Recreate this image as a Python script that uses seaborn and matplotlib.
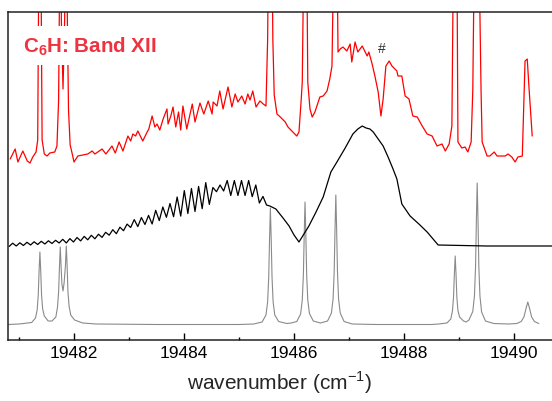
import matplotlib
matplotlib.use('Agg')
import matplotlib.pyplot as plt
import seaborn as sns
from matplotlib.ticker import MultipleLocator

# ── data (wavenumber in cm-1, intensity in arb. units) ────────────────
# experimental spectrum (red, top)
red_x = [19480.84, 19480.93, 19480.98, 19481.07, 19481.15, 19481.20, 19481.25, 19481.31, 19481.34, 19481.355,
         19481.38, 19481.405, 19481.42, 19481.46, 19481.51, 19481.56, 19481.65, 19481.69, 19481.72, 19481.735,
         19481.75, 19481.77, 19481.80, 19481.83, 19481.86, 19481.875, 19481.90, 19481.93, 19481.96, 19482.00,
         19482.07, 19482.16, 19482.25, 19482.33, 19482.38, 19482.51, 19482.58, 19482.69, 19482.75, 19482.82,
         19482.89, 19482.98, 19483.03, 19483.07, 19483.12, 19483.16, 19483.25, 19483.33, 19483.36, 19483.42,
         19483.47, 19483.51, 19483.56, 19483.62, 19483.69, 19483.71, 19483.76, 19483.80, 19483.85, 19483.90,
         19483.94, 19483.98, 19484.05, 19484.15, 19484.20, 19484.29, 19484.36, 19484.44, 19484.51, 19484.53,
         19484.60, 19484.65, 19484.71, 19484.80, 19484.87, 19484.93, 19484.98, 19485.05, 19485.11, 19485.16,
         19485.20, 19485.25, 19485.31, 19485.38, 19485.44, 19485.49, 19485.52, 19485.545, 19485.565, 19485.59,
         19485.615, 19485.64, 19485.69, 19485.75, 19485.84, 19485.89, 19485.98, 19486.05, 19486.09, 19486.13,
         19486.15, 19486.18, 19486.20, 19486.23, 19486.25, 19486.29, 19486.33, 19486.38, 19486.47, 19486.53,
         19486.60, 19486.65, 19486.69, 19486.725, 19486.755, 19486.78, 19486.80, 19486.84, 19486.89, 19486.96,
         19487.02, 19487.05, 19487.11, 19487.16, 19487.24, 19487.33, 19487.36, 19487.42, 19487.47, 19487.53,
         19487.58, 19487.62, 19487.67, 19487.73, 19487.78, 19487.87, 19487.89, 19487.96, 19488.02, 19488.09,
         19488.16, 19488.24, 19488.33, 19488.42, 19488.51, 19488.60, 19488.69, 19488.75, 19488.82, 19488.87,
         19488.90, 19488.93, 19488.96, 19488.98, 19489.05, 19489.11, 19489.16, 19489.22, 19489.25, 19489.28,
         19489.32, 19489.36, 19489.40, 19489.42, 19489.51, 19489.56, 19489.64, 19489.69, 19489.84, 19489.89,
         19489.96, 19490.02, 19490.07, 19490.15, 19490.20, 19490.24, 19490.27, 19490.33]
red_y = [181, 191, 178, 189, 179, 177, 183, 188, 200, 330,
         600, 330, 200, 186, 184, 187, 188, 194, 240, 340,
         600, 320, 251, 320, 600, 340, 230, 195, 188, 178,
         184, 185, 186, 189, 186, 191, 186, 194, 187, 198,
         189, 204, 199, 206, 204, 209, 199, 208, 211, 224,
         213, 216, 210, 221, 231, 216, 224, 233, 213, 228,
         210, 234, 211, 236, 218, 237, 226, 239, 226, 238,
         234, 249, 231, 253, 233, 246, 238, 244, 236, 246,
         240, 249, 233, 239, 236, 234, 300, 450, 600, 450,
         300, 245, 226, 223, 218, 213, 208, 204, 208, 240,
         258, 400, 600, 400, 258, 231, 223, 228, 243, 244,
         249, 261, 274, 400, 600, 400, 288, 291, 293, 289,
         296, 278, 298, 288, 294, 284, 288, 276, 264, 248,
         224, 241, 274, 279, 274, 269, 264, 264, 244, 241,
         224, 223, 214, 206, 204, 194, 196, 189, 196, 214,
         400, 600, 400, 198, 192, 193, 188, 198, 250, 400,
         600, 400, 250, 198, 184, 184, 188, 184, 184, 186,
         183, 178, 183, 184, 279, 281, 254, 204]

# simulated contour (black, middle)
black_x = [19480.82, 19480.885, 19480.95, 19481.015, 19481.08, 19481.145, 19481.21, 19481.275, 19481.34, 19481.405,
           19481.47, 19481.535, 19481.60, 19481.665, 19481.73, 19481.795, 19481.86, 19481.925, 19481.99, 19482.055,
           19482.12, 19482.185, 19482.25, 19482.315, 19482.38, 19482.445, 19482.51, 19482.575, 19482.64, 19482.705,
           19482.77, 19482.835, 19482.90, 19482.965, 19483.03, 19483.095, 19483.16, 19483.225, 19483.29, 19483.355,
           19483.42, 19483.485, 19483.55, 19483.615, 19483.68, 19483.745, 19483.81, 19483.875, 19483.94, 19484.005,
           19484.07, 19484.135, 19484.20, 19484.265, 19484.33, 19484.395, 19484.46, 19484.525, 19484.59, 19484.655,
           19484.72, 19484.785, 19484.85, 19484.915, 19484.98, 19485.045, 19485.11, 19485.175, 19485.24, 19485.305,
           19485.37, 19485.435, 19485.50,
           19485.56, 19485.67, 19485.80, 19485.91, 19486.00, 19486.09, 19486.18, 19486.27, 19486.40, 19486.53,
           19486.67, 19486.78, 19486.93, 19487.07, 19487.16, 19487.24, 19487.31, 19487.38, 19487.44, 19487.53,
           19487.62, 19487.71, 19487.80, 19487.87, 19487.96, 19488.11, 19488.27, 19488.42, 19488.62, 19489.50,
           19490.70]
black_y = [93.5, 96.8, 94.0, 97.2, 94.5, 97.7, 95.0, 98.2, 95.5, 98.7,
           96.0, 99.2, 96.5, 99.7, 97.0, 100.7, 97.0, 101.4, 98.0, 102.5,
           99.1, 103.6, 100.2, 104.7, 101.2, 105.8, 102.6, 107.7, 104.8, 110.3,
           106.3, 112.8, 109.3, 115.9, 112.5, 120.4, 113.4, 122.5, 115.5, 124.6,
           116.0, 129.7, 119.4, 133.0, 122.7, 136.5, 123.3, 143.0, 123.9, 149.4,
           126.5, 151.5, 128.5, 153.6, 131.3, 157.4, 135.6, 152.5, 148.3, 155.0,
           149.0, 159.5, 144.5, 159.5, 144.5, 159.5, 144.5, 159.5, 143.3, 155.0,
           137.0, 143.6, 135.0,
           134, 131, 122, 114, 105, 98, 106, 114, 128, 143,
           168, 178, 192, 206, 211, 214, 212, 211, 208, 201,
           194, 183, 171, 161, 136, 124, 116, 108, 95, 94,
           94]

# calculated line positions (grey, bottom)
gray_x = [19480.80, 19481.00, 19481.08, 19481.23, 19481.30, 19481.33, 19481.35, 19481.365, 19481.38, 19481.395,
          19481.41, 19481.43, 19481.46, 19481.53, 19481.60, 19481.67, 19481.70, 19481.72, 19481.735, 19481.75,
          19481.765, 19481.78, 19481.80, 19481.82, 19481.845, 19481.86, 19481.875, 19481.89, 19481.91, 19481.94,
          19482.01, 19482.16, 19482.40, 19483.50, 19485.00, 19485.27, 19485.42, 19485.49, 19485.52, 19485.54,
          19485.555, 19485.57, 19485.585, 19485.60, 19485.62, 19485.65, 19485.72, 19485.87, 19485.95, 19486.05,
          19486.12, 19486.15, 19486.17, 19486.185, 19486.20, 19486.215, 19486.23, 19486.25, 19486.28, 19486.35,
          19486.48, 19486.61, 19486.68, 19486.71, 19486.73, 19486.745, 19486.76, 19486.775, 19486.79, 19486.81,
          19486.84, 19486.91, 19487.06, 19487.50, 19488.50, 19488.63, 19488.78, 19488.85, 19488.88, 19488.90,
          19488.915, 19488.93, 19488.945, 19488.96, 19488.98, 19489.01, 19489.08, 19489.13, 19489.18, 19489.25,
          19489.28, 19489.30, 19489.315, 19489.33, 19489.345, 19489.36, 19489.38, 19489.41, 19489.48, 19489.63,
          19489.90, 19490.05, 19490.13, 19490.18, 19490.22, 19490.25, 19490.28, 19490.32, 19490.37, 19490.45]
gray_y = [15.5, 16.0, 16.5, 17.5, 22, 30, 45, 69, 88, 69,
          45, 31, 24, 19, 19, 23, 33, 48, 72, 93,
          74, 56, 49, 57, 75, 94, 74, 48, 34, 25,
          20, 17, 16, 15.5, 15.5, 16, 18, 25, 38, 63,
          101, 132, 101, 63, 38, 25, 18.5, 16.5, 17, 18.5,
          26, 40, 65, 105, 138, 105, 65, 40, 26.5, 19,
          17, 19, 27, 41, 68, 110, 145, 110, 68, 41,
          27, 18.5, 16, 15.5, 15.5, 16, 17, 21, 29, 43,
          66, 84, 66, 43, 29.5, 23, 19, 18, 20, 28.5,
          44, 73, 119, 157, 119, 73, 44, 28, 19, 16.5,
          16, 16.5, 18.5, 23, 32, 38, 32, 23, 18.5, 16.5]

X_LIM = (19480.8, 19490.69)
Y_LIM = (0, 328)


def draw():
    sns.set_style('ticks')
    plt.rcParams['font.family'] = ['Liberation Sans', 'DejaVu Sans']
    plt.rcParams['mathtext.fontset'] = 'custom'
    plt.rcParams['mathtext.rm'] = 'Liberation Sans:bold'
    plt.rcParams['mathtext.bf'] = 'Liberation Sans:bold'

    fig = plt.figure(figsize=(5.52, 4.02), dpi=100)
    ax = fig.add_axes([8 / 552, 1 - 341 / 402, 1 - 8 / 552, 328 / 402])

    sns.lineplot(x=gray_x, y=gray_y, ax=ax, color='#8a8a8a', linewidth=0.8, estimator=None, sort=False)
    sns.lineplot(x=black_x, y=black_y, ax=ax, color='black', linewidth=0.9, estimator=None, sort=False)
    sns.lineplot(x=red_x, y=red_y, ax=ax, color='#ff0000', linewidth=0.9, estimator=None, sort=False)

    ax.set_xlim(*X_LIM)
    ax.set_ylim(*Y_LIM)
    ax.set_yticks([])
    ax.xaxis.set_major_locator(MultipleLocator(2))
    ax.xaxis.set_minor_locator(MultipleLocator(1))
    ax.xaxis.set_major_formatter(matplotlib.ticker.FormatStrFormatter('%d'))
    ax.tick_params(axis='x', which='both', direction='in', top=False, labelsize=12.5, colors='black')
    ax.tick_params(axis='x', which='major', length=5, width=1)
    ax.tick_params(axis='x', which='minor', length=2.5, width=1)
    ax.set_xlabel('wavenumber (cm$^{\\mathregular{-1}}$)', fontsize=15, labelpad=6)
    ax.set_ylabel('')

    for side in ['left', 'top', 'bottom']:
        ax.spines[side].set_linewidth(1.1)
        ax.spines[side].set_color('#222222')
    ax.spines['right'].set_visible(False)

    ax.text(0.028, 0.881, r'C$_\mathbf{6}$H: Band XII', transform=ax.transAxes,
            fontsize=14.8, fontweight='bold', color='#ee3340', va='baseline', ha='left',
            bbox=dict(facecolor='white', edgecolor='none', pad=6))
    ax.text(19487.6, 292, '#', fontsize=10, color='#333333', ha='center', va='center')

    fig.savefig('out.png', dpi=100)


if __name__ == "__main__":
    draw()
